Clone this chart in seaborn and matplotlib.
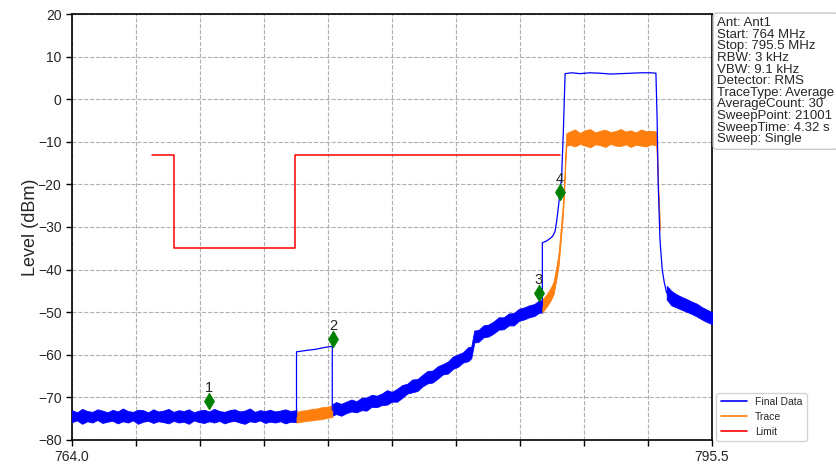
import numpy as np
import matplotlib
matplotlib.use("Agg")
import matplotlib.pyplot as plt
from matplotlib.lines import Line2D
import seaborn as sns

# --- data ---
# blue noise floor 764 - 775 MHz (upper / lower edge of the band)
floor1_freq = [764.0, 764.25, 764.5, 764.75, 765.0, 765.25, 765.5, 765.75, 766.0, 766.25,
               766.5, 766.75, 767.0, 767.25, 767.5, 767.75, 768.0, 768.25, 768.5, 768.75,
               769.0, 769.25, 769.5, 769.75, 770.0, 770.25, 770.5, 770.75, 771.0, 771.25,
               771.5, 771.75, 772.0, 772.25, 772.5, 772.75, 773.0, 773.25, 773.5, 773.75,
               774.0, 774.25, 774.5, 774.75, 775.05]
floor1_hi = [-73.0, -73.5, -72.7, -73.2, -73.4, -72.8, -73.1, -73.5, -72.9, -73.3,
             -72.6, -73.2, -73.4, -72.9, -73.0, -73.5, -72.8, -73.3, -73.1, -72.7,
             -73.4, -73.0, -73.2, -72.8, -73.5, -73.1, -72.9, -73.3, -72.7, -73.2,
             -73.4, -73.0, -72.8, -73.3, -73.1, -72.6, -73.4, -73.0, -73.2, -72.9,
             -73.3, -73.1, -72.8, -73.2, -73.0]
floor1_lo = [-75.8, -75.4, -76.2, -75.6, -75.9, -75.3, -76.0, -75.7, -75.5, -76.1,
             -75.6, -75.9, -75.4, -76.2, -75.7, -75.5, -76.0, -75.6, -75.8, -76.1,
             -75.5, -75.9, -75.7, -76.2, -75.4, -75.8, -76.0, -75.6, -75.9, -75.5,
             -76.1, -75.7, -75.5, -75.9, -76.2, -75.6, -75.8, -75.4, -76.0, -75.7,
             -75.9, -75.6, -76.1, -75.7, -75.8]

# blue rising skirt 776.8 - 787.15 MHz
skirt_freq = [776.81, 777.0, 777.25, 777.5, 777.75, 778.0, 778.25, 778.5, 778.75, 779.0,
              779.25, 779.5, 779.75, 780.0, 780.25, 780.5, 780.75, 781.0, 781.25, 781.5,
              781.75, 782.0, 782.25, 782.5, 782.75, 783.0, 783.25, 783.5, 783.65, 783.8,
              784.0, 784.25, 784.5, 784.75, 785.0, 785.25, 785.5, 785.75, 786.0, 786.25,
              786.5, 786.75, 787.0, 787.15]
skirt_hi = [-71.6, -71.1, -71.5, -71.0, -70.5, -70.9, -70.1, -70.0, -69.4, -69.6,
            -69.1, -68.3, -68.7, -68.0, -67.1, -66.8, -65.8, -65.7, -64.7, -63.8,
            -63.7, -62.7, -62.2, -61.6, -60.4, -59.9, -59.4, -58.2, -58.1, -54.3,
            -54.2, -53.1, -52.9, -52.2, -51.2, -51.2, -50.3, -50.2, -49.2, -48.9,
            -48.4, -48.1, -47.2, -47.3]
skirt_lo = [-74.3, -73.9, -74.3, -73.7, -73.3, -73.5, -73.0, -73.1, -72.2, -72.3,
            -71.8, -71.7, -71.0, -71.0, -70.1, -69.1, -68.8, -68.5, -67.4, -66.7,
            -66.5, -65.6, -64.6, -64.4, -63.3, -62.8, -61.8, -61.5, -60.8, -57.1,
            -57.0, -55.9, -55.7, -55.0, -54.1, -54.0, -53.1, -53.1, -52.0, -51.7,
            -51.2, -50.9, -50.1, -50.1]

# blue falling skirt 793.27 - 795.5 MHz
tail_freq = [793.27, 793.5, 793.75, 794.0, 794.25, 794.5, 794.75, 795.0, 795.25, 795.5]
tail_hi = [-43.8, -45.0, -45.8, -46.4, -46.9, -47.5, -48.0, -48.8, -49.4, -50.0]
tail_lo = [-47.0, -48.4, -48.9, -49.4, -49.9, -50.4, -51.0, -51.7, -52.3, -52.8]

# orange trace (raw) where final data was replaced
trace1_freq = [775.05, 775.3, 775.55, 775.8, 776.05, 776.3, 776.55, 776.81]
trace1_hi = [-73.4, -73.1, -73.0, -72.7, -72.6, -72.3, -72.2, -71.9]
trace1_lo = [-75.9, -75.7, -75.5, -75.4, -75.2, -75.1, -74.8, -74.6]

trace2_freq = [787.15, 787.35, 787.55, 787.7, 787.85, 787.95, 788.05, 788.15, 788.22, 788.28, 788.33,
               788.5, 788.75, 789.0, 789.25, 789.5, 789.75, 790.0, 790.25, 790.5, 790.75,
               791.0, 791.25, 791.5, 791.75, 792.0, 792.25, 792.5, 792.75,
               792.8, 792.86, 792.92]
trace2_hi = [-47.0, -45.9, -44.4, -42.9, -39.1, -36.1, -30.6, -25.1, -19.6, -12.6, -8.0,
             -7.6, -7.1, -7.9, -7.3, -7.0, -7.8, -7.4, -7.2, -7.7, -7.5,
             -7.0, -7.6, -7.3, -7.8, -7.1, -7.5, -7.4, -7.6,
             -12.0, -21.0, -27.5]
trace2_lo = [-50.0, -48.8, -47.3, -45.8, -42.0, -39.0, -33.5, -28.0, -22.5, -15.5, -11.0,
             -10.7, -11.1, -10.5, -10.9, -11.3, -10.6, -10.8, -11.2, -10.5, -10.9,
             -11.0, -10.6, -11.2, -10.7, -10.9, -11.1, -10.6, -10.8,
             -15.0, -24.0, -30.5]

# final data, clean sections
final1_freq = [775.05, 775.05, 775.5, 776.0, 776.4, 776.81, 776.81]
final1_lvl = [-74.5, -59.3, -59.0, -58.7, -58.3, -58.0, -73.0]
final2_freq = [787.15, 787.15, 787.35, 787.53, 787.65, 787.77, 787.85, 787.94, 788.02, 788.10, 788.18,
               788.27, 788.6, 789.0, 789.5, 790.0, 790.5, 791.0, 791.5, 792.0, 792.5, 792.74,
               792.80, 792.85, 792.94, 793.05, 793.15, 793.27]
final2_lvl = [-48.6, -33.7, -33.3, -32.7, -32.2, -31.1, -28.8, -25.3, -21.8, -18.2, -8.0,
              6.0, 6.2, 6.0, 6.2, 6.1, 5.9, 6.0, 6.1, 6.2, 6.2, 6.1,
              -5.0, -19.7, -33.0, -40.0, -43.0, -45.5]

# limit line
limit_freq = [767.95, 769.0, 769.0, 775.0, 775.0, 788.0]
limit_lvl = [-13, -13, -35, -35, -13, -13]

# markers
mk_freq = [770.74, 776.84, 786.98, 788.02]
mk_lvl = [-70.9, -56.3, -45.5, -21.8]
mk_names = ["1", "2", "3", "4"]

info_lines = ["Ant: Ant1", "Start: 764 MHz", "Stop: 795.5 MHz", "RBW: 3 kHz", "VBW: 9.1 kHz",
              "Detector: RMS", "TraceType: Average", "AverageCount: 30", "SweepPoint: 21001",
              "SweepTime: 4.32 s", "Sweep: Single"]

BLUE = "#0000ff"
ORANGE = "#ff7f0e"
RED = "#ff0000"

sns.set_style("ticks")
plt.rcParams["font.family"] = ["Liberation Sans", "DejaVu Sans"]

fig = plt.figure(figsize=(8.36, 4.68), dpi=100)
ax = fig.add_axes([72 / 836, 1 - 440 / 468, 640 / 836, 426 / 468])

# noisy bands
for f, hi, lo in [(floor1_freq, floor1_hi, floor1_lo), (skirt_freq, skirt_hi, skirt_lo),
                  (tail_freq, tail_hi, tail_lo)]:
    ax.fill_between(f, lo, hi, color=BLUE, lw=0.6, zorder=3)
for f, hi, lo in [(trace1_freq, trace1_hi, trace1_lo), (trace2_freq, trace2_hi, trace2_lo)]:
    ax.fill_between(f, lo, hi, color=ORANGE, lw=0.6, zorder=4)

sns.lineplot(x=final1_freq, y=final1_lvl, sort=False, estimator=None, color=BLUE, lw=0.9, ax=ax, zorder=5)
sns.lineplot(x=final2_freq, y=final2_lvl, sort=False, estimator=None, color=BLUE, lw=0.9, ax=ax, zorder=5)
sns.lineplot(x=limit_freq, y=limit_lvl, sort=False, estimator=None, color=RED, lw=1.1, ax=ax, zorder=5)

sns.scatterplot(x=mk_freq, y=mk_lvl, marker="d", s=70, color="#008000", edgecolor="#008000", ax=ax, zorder=6)
for f, l, n in zip(mk_freq, mk_lvl, mk_names):
    ax.text(f, l + 3.1, n, ha="center", va="center", fontsize=10.5, zorder=7)

ax.set_xlim(764, 795.5)
ax.set_ylim(-80, 20)
xt = np.linspace(764, 795.5, 11)
ax.set_xticks(xt)
ax.set_xticklabels(["764.0"] + [""] * 9 + ["795.5"])
ax.set_yticks(np.arange(-80, 21, 10))
ax.tick_params(labelsize=10, length=4, width=1, color="black")
ax.grid(True, ls="--", color="#b0b0b0", lw=0.8)
ax.set_axisbelow(True)
for s in ax.spines.values():
    s.set_color("black")
    s.set_linewidth(1.2)
ax.set_ylabel("Level (dBm)", fontsize=13, labelpad=-1)
ax.set_xlabel("")

ax.text(1.008, 0.993, "\n".join(info_lines), transform=ax.transAxes, ha="left", va="top",
        fontsize=9.5, linespacing=0.96,
        bbox=dict(boxstyle="round,pad=0.3", fc="white", ec="#c8c8c8"))

handles = [Line2D([], [], color=BLUE, lw=1.2), Line2D([], [], color=ORANGE, lw=1.2),
           Line2D([], [], color=RED, lw=1.2)]
ax.legend(handles, ["Final Data", "Trace", "Limit"], loc="lower left", bbox_to_anchor=(1.007, -0.003),
          borderaxespad=0, fontsize=7.5, handlelength=2.5, frameon=True, edgecolor="#c8c8c8")

fig.savefig("out.png", dpi=100, facecolor="white")
